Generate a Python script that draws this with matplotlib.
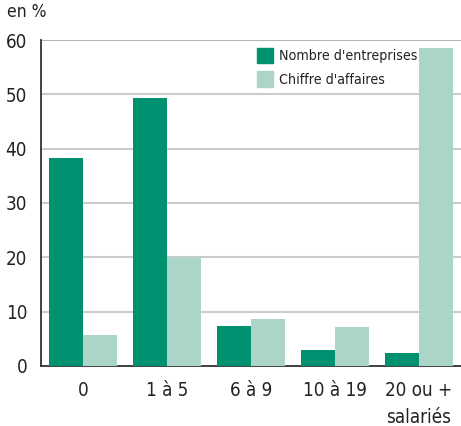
import numpy as np
import matplotlib.pyplot as plt
from matplotlib.patches import Patch

plt.rcParams['font.family'] = ['DejaVu Sans']
plt.rcParams['font.stretch'] = 'condensed'

categories = ["0", "1 à 5", "6 à 9", "10 à 19", "20 ou +\nsalariés"]
nombre = [38.3, 49.3, 7.4, 3.0, 2.4]
chiffre = [5.7, 20.0, 8.7, 7.2, 58.5]

dark = "#009270"
light = "#acd5ca"

fig = plt.figure(figsize=(4.61, 4.26), dpi=100)
ax = fig.add_axes([0.089, 0.141, 0.911, 0.765])

x = np.arange(len(categories))
w = 0.4
ax.bar(x - w / 2, nombre, w, color=dark, zorder=3)
ax.bar(x + w / 2, chiffre, w, color=light, zorder=3)

ax.set_xlim(-0.5, 4.5)
ax.set_ylim(0, 60)
ax.set_yticks(range(0, 61, 10))
ax.set_xticks(x)
ax.set_xticklabels(categories, linespacing=1.5, va="top")
ax.tick_params(length=0, labelsize=13.5, colors="#222222")
ax.tick_params(axis="y", pad=10)
ax.tick_params(axis="x", pad=11)

for v in range(10, 61, 10):
    ax.axhline(v, color="#b4b4b4" if v == 60 else "#cccccc", lw=1.5, zorder=1)

for s in ["top", "right"]:
    ax.spines[s].set_visible(False)
ax.spines["left"].set_color("#333333")
ax.spines["bottom"].set_color("#333333")
ax.spines["left"].set_linewidth(1.3)
ax.spines["bottom"].set_linewidth(1.3)

handles = [Patch(color=dark, label="Nombre d'entreprises"),
           Patch(color=light, label="Chiffre d'affaires")]
ax.legend(handles=handles, loc="upper left", bbox_to_anchor=(0.485, 1.015),
          frameon=False, fontsize=10.2, handlelength=1.1, handleheight=1.3,
          handletextpad=0.45, labelspacing=0.55, labelcolor="#222222")

fig.text(0.015, 0.992, "en %", fontsize=12.5, va="top", ha="left", color="#222222")

fig.savefig("out.png", dpi=100)
